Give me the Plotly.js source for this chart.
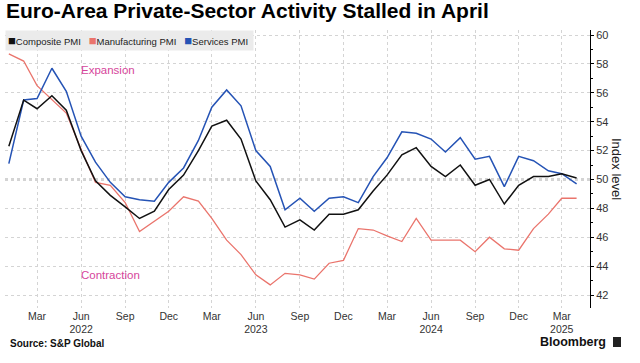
<!DOCTYPE html>
<html>
<head>
<meta charset="utf-8">
<script src="https://cdn.plot.ly/plotly-3.0.1.min.js"></script>
<style>
html,body{margin:0;padding:0;background:#fff;}
#chart{width:640px;height:363px;}
</style>
</head>
<body>
<div id="chart"></div>
<script>
const months = [
 '2022-01-01','2022-02-01','2022-03-01','2022-04-01','2022-05-01','2022-06-01','2022-07-01','2022-08-01','2022-09-01','2022-10-01','2022-11-01','2022-12-01',
 '2023-01-01','2023-02-01','2023-03-01','2023-04-01','2023-05-01','2023-06-01','2023-07-01','2023-08-01','2023-09-01','2023-10-01','2023-11-01','2023-12-01',
 '2024-01-01','2024-02-01','2024-03-01','2024-04-01','2024-05-01','2024-06-01','2024-07-01','2024-08-01','2024-09-01','2024-10-01','2024-11-01','2024-12-01',
 '2025-01-01','2025-02-01','2025-03-01','2025-04-01'
];
const compositePMI = [
 52.3,55.5,54.9,55.8,54.8,52.0,49.9,48.9,48.1,47.3,47.8,49.3,
 50.3,52.0,53.7,54.1,52.8,49.9,48.6,46.7,47.2,46.5,47.6,47.6,
 47.9,49.2,50.3,51.7,52.2,50.9,50.2,51.0,49.6,50.0,48.3,49.6,
 50.2,50.2,50.4,50.1
];
const manufacturingPMI = [
 58.7,58.2,56.5,55.5,54.6,52.1,49.8,49.6,48.4,46.4,47.1,47.8,
 48.8,48.5,47.3,45.8,44.8,43.4,42.7,43.5,43.4,43.1,44.2,44.4,
 46.6,46.5,46.1,45.7,47.3,45.8,45.8,45.8,45.0,46.0,45.2,45.1,
 46.6,47.6,48.7,48.7
];
const servicesPMI = [
 51.1,55.5,55.6,57.7,56.1,53.0,51.2,49.8,48.8,48.6,48.5,49.8,
 50.8,52.7,55.0,56.2,55.1,52.0,50.9,47.9,48.7,47.8,48.7,48.8,
 48.4,50.2,51.5,53.3,53.2,52.8,51.9,52.9,51.4,51.6,49.5,51.6,
 51.3,50.6,50.4,49.7
];
const seriesNames = ['Composite PMI','Manufacturing PMI','Services PMI'];
const tickDates = ['2022-03-01','2022-06-01','2022-09-01','2022-12-01','2023-03-01','2023-06-01','2023-09-01','2023-12-01','2024-03-01','2024-06-01','2024-09-01','2024-12-01','2025-03-01'];
const tickLabels = ['Mar','Jun<br>2022','Sep','Dec','Mar','Jun<br>2023','Sep','Dec','Mar','Jun<br>2024','Sep','Dec','Mar<br>2025'];
const yTicks = [42,44,46,48,50,52,54,56,58,60];
const neutralLevel = 50;

const C_COMP = '#111111', C_MFG = '#ea746c', C_SERV = '#2553b5';
const FONT = 'Liberation Sans, Arial, sans-serif';

// plot area in pixels
const L = 5, R = 590, T = 30, B = 308;
const px = x => (x - L) / (R - L);
const py = y => (B - y) / (B - T);

const traces = [
 {x: months, y: manufacturingPMI, name: seriesNames[1], type: 'scatter', mode: 'lines',
  line: {color: C_MFG, width: 1.3}, showlegend: false},
 {x: months, y: servicesPMI, name: seriesNames[2], type: 'scatter', mode: 'lines',
  line: {color: C_SERV, width: 1.5}, showlegend: false},
 {x: months, y: compositePMI, name: seriesNames[0], type: 'scatter', mode: 'lines',
  line: {color: C_COMP, width: 1.5}, showlegend: false}
];

const sq = c => '<span style="color:' + c + ';font-size:13px;">■</span>';
const legendText =
 sq(C_COMP) + seriesNames[0] + '   ' +
 sq(C_MFG) + seriesNames[1] + '   ' +
 sq(C_SERV) + seriesNames[2] + ' ';

const layout = {
 width: 640, height: 363,
 margin: {l: L, r: 640 - R, t: T, b: 363 - B, pad: 0},
 paper_bgcolor: '#ffffff', plot_bgcolor: '#ffffff',
 showlegend: false,
 title: {
  text: 'Euro-Area Private-Sector Activity Stalled in April',
  x: 6 / 640, xanchor: 'left', xref: 'container',
  y: 1 - 3 / 363, yanchor: 'top', yref: 'container',
  font: {family: FONT, size: 21, color: '#000', weight: 700}
 },
 xaxis: {
  type: 'date',
  range: ['2021-12-24', '2025-04-29'],
  tickmode: 'array', tickvals: tickDates, ticktext: tickLabels,
  ticks: '', showline: false, zeroline: false,
  showgrid: true, gridcolor: '#d4d4d4', griddash: 'dot', gridwidth: 1,
  tickfont: {family: FONT, size: 10.5, color: '#333'},
  tickangle: 0
 },
 yaxis: {
  side: 'right',
  range: [41.1, 60.35],
  tickmode: 'array', tickvals: yTicks,
  ticks: 'outside', ticklen: 3, tickcolor: '#000', tickwidth: 1,
  minor: {dtick: 1, ticks: 'outside', ticklen: 2, tickcolor: '#000', showgrid: false},
  showline: true, linecolor: '#000', linewidth: 1,
  zeroline: false,
  showgrid: true, gridcolor: '#d4d4d4', griddash: 'dot', gridwidth: 1,
  tickfont: {family: FONT, size: 11, color: '#333'}
 },
 shapes: [
  {type: 'line', xref: 'paper', x0: 0, x1: 1, yref: 'y', y0: neutralLevel, y1: neutralLevel,
   line: {color: '#a8a8a8', width: 2, dash: 'dot'}, layer: 'below'},
  {type: 'rect', xref: 'paper', yref: 'paper', x0: px(613), x1: px(621), y0: py(347), y1: py(337),
   fillcolor: '#222', line: {width: 0}}
 ],
 annotations: [
  {text: legendText, xref: 'paper', yref: 'paper', x: px(5), y: py(40), xanchor: 'left', yanchor: 'middle',
   showarrow: false, bgcolor: '#ebebeb', borderpad: 2,
   font: {family: FONT, size: 9.5, color: '#222'}},
  {text: 'Expansion', xref: 'paper', yref: 'paper', x: px(79), y: py(70), xanchor: 'left', yanchor: 'middle',
   showarrow: false, font: {family: FONT, size: 11.5, color: '#d6459b'}},
  {text: 'Contraction', xref: 'paper', yref: 'paper', x: px(79), y: py(275), xanchor: 'left', yanchor: 'middle',
   showarrow: false, font: {family: FONT, size: 11.5, color: '#d6459b'}},
  {text: 'Index level', xref: 'paper', yref: 'paper', x: px(617), y: py(169), xanchor: 'center', yanchor: 'middle',
   textangle: 90, showarrow: false, font: {family: FONT, size: 13, color: '#222'}},
  {text: 'Source: S&P Global', xref: 'paper', yref: 'paper', x: px(8), y: py(343), xanchor: 'left', yanchor: 'middle',
   showarrow: false, font: {family: FONT, size: 10, color: '#111', weight: 700}},
  {text: 'Bloomberg', xref: 'paper', yref: 'paper', x: px(608), y: py(342), xanchor: 'right', yanchor: 'middle',
   showarrow: false, font: {family: FONT, size: 12.5, color: '#111', weight: 700}}
 ]
};

Plotly.newPlot('chart', traces, layout, {staticPlot: true, displayModeBar: false});
</script>
</body>
</html>
